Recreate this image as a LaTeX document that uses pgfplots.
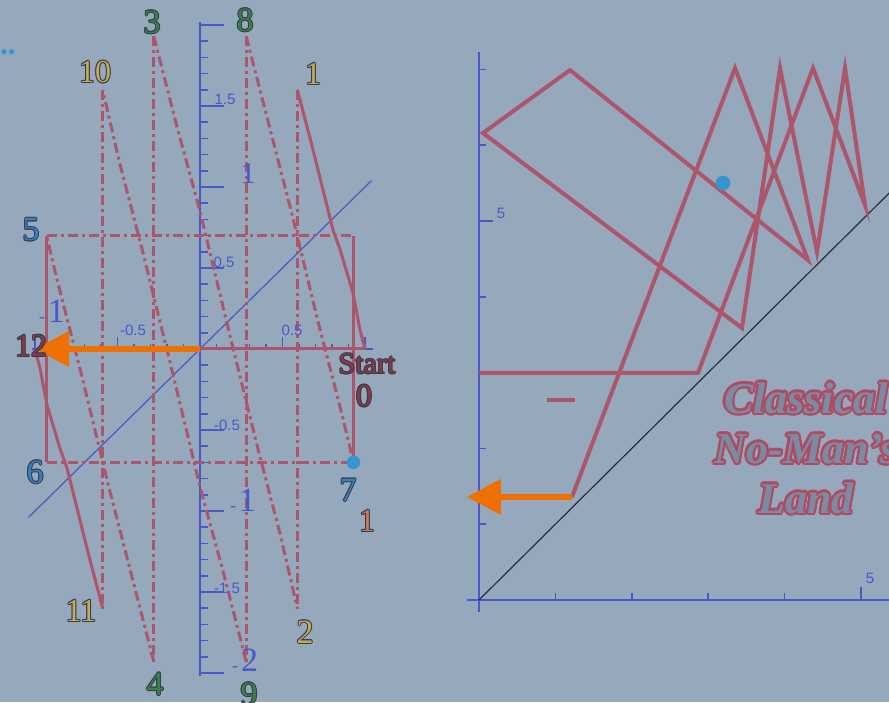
\documentclass[border=0pt]{standalone}
\usepackage{fontspec}
\setmainfont{Liberation Serif}
\newfontfamily\sansf{Liberation Sans}
\usepackage{pgfplots}
\pgfplotsset{compat=1.18}
\usetikzlibrary{arrows.meta}
\definecolor{bg}{RGB}{150,168,188}
\definecolor{redline}{RGB}{172,86,108}
\definecolor{axisblue}{RGB}{72,88,200}
\definecolor{orangeA}{RGB}{238,112,0}
\definecolor{dotblue}{RGB}{55,150,205}
\definecolor{lgreen}{RGB}{55,128,72}
\definecolor{lyellow}{RGB}{198,172,82}
\definecolor{lblue}{RGB}{52,128,192}
\definecolor{ldred}{RGB}{140,55,70}
\definecolor{lorange}{RGB}{205,122,82}
\definecolor{outl}{RGB}{55,60,75}
\definecolor{clfill}{RGB}{122,140,164}
\definecolor{clout}{RGB}{176,74,96}
\definecolor{diagc}{RGB}{40,45,60}

\newcommand{\olab}[5]{%
 \foreach \ang in {0,45,...,315}{\node[inner sep=0pt,text=outl,font=\fontsize{#4}{#4}\selectfont,shift={(\ang:0.5pt)}] at (#1,#2) {#5};}%
 \node[inner sep=0pt,text=#3,font=\fontsize{#4}{#4}\selectfont] at (#1,#2) {#5};}
\newcommand{\slab}[3]{\node[inner sep=0pt,text=axisblue,font=\sansf\fontsize{7.5}{7.5}\selectfont] at (#1,#2) {#3};}
\newcommand{\blab}[3]{\node[inner sep=0pt,text=axisblue] at (#1,#2) {{\fontsize{9}{9}\selectfont -\,}{\fontsize{17}{17}\selectfont #3}};}

\pgfplotsset{
  redl/.style={draw=redline, line width=1.5pt, line join=round},
  dd/.style={dash pattern=on 5pt off 2pt on 1.5pt off 2pt},
  redr/.style={draw=redline, line width=2pt},
}

\begin{document}
\begin{tikzpicture}
\useasboundingbox (0,0) rectangle (444.5pt,351pt);
\clip (0,0) rectangle (444.5pt,351pt);
\fill[bg] (0,0) rectangle (444.5pt,351pt);

% ---------------- left chart: y axis only
\begin{axis}[at={(15.85pt,12.88pt)}, anchor=south west, scale only axis,
  width=170.775pt, height=327.24pt,
  xmin=-1.02, xmax=1.05, ymin=-2.02, ymax=2.02,
  axis lines=middle, axis line style={draw=axisblue, line width=0.8pt, -},
  hide x axis,
  ytick={-2,-1.5,...,2}, minor y tick num=4, yticklabels={},
  tick align=inside, major tick length=12pt, minor tick length=4pt,
  tick style={axisblue, line width=0.8pt}, clip=false]
\addplot[draw=none] coordinates {(0,0)};
\end{axis}

% ---------------- left chart: x axis + data
\begin{axis}[at={(15.85pt,12.88pt)}, anchor=south west, scale only axis,
  width=170.775pt, height=327.24pt,
  xmin=-1.02, xmax=1.05, ymin=-2.02, ymax=2.02,
  axis lines=middle, axis line style={draw=axisblue, line width=0.8pt, -},
  hide y axis,
  xtick={-1,-0.5,0,0.5,1}, minor x tick num=4, xticklabels={},
  tick align=inside, major tick length=6pt, minor tick length=2.5pt,
  tick style={axisblue, line width=0.8pt}, clip=false]
% diagonal
\addplot[draw=axisblue, line width=0.6pt] coordinates {(-1.04,-1.04) (1.04,1.04)};
% rectangle
\addplot[redl] coordinates {(-0.93,0.70) (-0.93,-0.70)};
\addplot[redl] coordinates {(0.93,0.70) (0.93,-0.70)};
\addplot[redl,dd] coordinates {(-0.93,0.70) (0.93,0.70)};
\addplot[redl,dd] coordinates {(-0.93,-0.70) (0.93,-0.70)};
% start line
\addplot[redl] coordinates {(0,0) (1.0,0)};
% verticals
\addplot[redl,dd] coordinates {(0.59,1.6) (0.59,-1.6)};
\addplot[redl,dd] coordinates {(-0.59,1.6) (-0.59,-1.6)};
\addplot[redl,dd] coordinates {(0.28,1.93) (0.28,-1.93)};
\addplot[redl,dd] coordinates {(-0.28,1.93) (-0.28,-1.93)};
% teeth
\addplot[redl] coordinates {(0.59,1.6) (0.68,1.25) (0.806,0.735) (0.85,0.61) (0.927,0.346) (0.97,0.117) (1.0,0)};
\addplot[redl] coordinates {(-0.59,-1.6) (-0.68,-1.25) (-0.806,-0.735) (-0.85,-0.61) (-0.927,-0.346) (-0.97,-0.117) (-1.0,0)};
\addplot[redl,dd] coordinates {(0.28,1.93) (0.424,1.36) (0.558,0.83) (0.715,0.17) (0.867,-0.43) (0.93,-0.70)};
\addplot[redl,dd] coordinates {(-0.28,-1.93) (-0.424,-1.36) (-0.558,-0.83) (-0.715,-0.17) (-0.867,0.43) (-0.93,0.70)};
\addplot[redl,dd] coordinates {(-0.28,1.93) (-0.139,1.37) (0,0.85) (0.182,0.08) (0.352,-0.62) (0.485,-1.14) (0.59,-1.6)};
\addplot[redl,dd] coordinates {(0.28,-1.93) (0.139,-1.37) (0,-0.85) (-0.182,-0.08) (-0.352,0.62) (-0.485,1.14) (-0.59,1.6)};
% arrow
\addplot[draw=orangeA, line width=3.3pt, -{Triangle[length=17pt,width=17pt]}] coordinates {(0,0) (-1.0,0)};
% dot
\addplot[only marks, mark=*, mark size=3.2pt, color=dotblue] coordinates {(0.93,-0.70)};
\end{axis}

% ---------------- right chart
\begin{axis}[at={(233.4pt,44.95pt)}, anchor=south west, scale only axis,
  width=216.2pt, height=280.05pt,
  xmin=-0.16, xmax=5.5, ymin=-0.16, ymax=7.23,
  axis lines=middle, axis line style={draw=axisblue, line width=0.8pt, -},
  xtick={1,...,5}, ytick={1,...,7}, xticklabels={}, yticklabels={},
  tick align=inside, major tick length=3.5pt,
  tick style={axisblue, line width=0.8pt}, clip=false]
\addplot[draw=axisblue, line width=0.8pt] coordinates {(0,5) (0.18,5)};
\addplot[draw=axisblue, line width=0.8pt] coordinates {(5,0) (5,0.17)};
\addplot[draw=diagc, line width=0.6pt] coordinates {(0,0) (5.6,5.6)};
\addplot[redr] coordinates {(0,2.995) (2.866,2.995) (4.372,7.018) (5.052,5.211) (4.791,7.018) (4.424,4.591) (3.940,7.018) (3.442,3.588) (0.052,6.161) (1.191,6.992) (4.306,4.485) (3.351,7.018) (1.217,1.359)};
\addplot[redr] coordinates {(0.89,2.64) (1.26,2.64)};
\addplot[only marks, mark=*, mark size=3.5pt, color=dotblue] coordinates {(3.194,5.501)};
\addplot[draw=orangeA, line width=3.3pt, -{Triangle[length=17pt,width=17pt]}] coordinates {(1.217,1.359) (-0.16,1.359)};
\end{axis}

% ---------------- labels (pixel coordinates)
\begin{scope}[x=0.5pt, y=-0.5pt, yshift=351pt]
\node[inner sep=0pt,text=dotblue,font=\fontsize{11}{11}\selectfont] at (8,55) {••};
\slab{225}{99}{1.5}
\slab{224}{262}{0.5}
\slab{227}{425}{-0.5}
\slab{227}{588}{-1.5}
\slab{133}{330}{-0.5}
\slab{292}{330}{0.5}
\slab{501}{213}{5}
\slab{870}{578}{5}
\blab{52}{311}{1}
\blab{243}{500}{1}
\blab{245}{660}{2}
\node[inner sep=0pt,text=axisblue,font=\fontsize{15}{15}\selectfont] at (248,174) {1};
\olab{152}{22}{lgreen}{17}{3}
\olab{245}{20}{lgreen}{17}{8}
\olab{95}{72}{lyellow}{16}{10}
\olab{313}{74}{lyellow}{16}{1}
\olab{31}{230}{lblue}{17}{5}
\olab{35}{472}{lblue}{17}{6}
\olab{31}{346}{ldred}{16}{12}
\olab{367}{364}{ldred}{15}{Start}
\olab{364}{396}{ldred}{16}{0}
\olab{348}{490}{lblue}{17}{7}
\olab{367}{521}{lorange}{16}{1}
\olab{81}{611}{lyellow}{16}{11}
\olab{155}{684}{lgreen}{17}{4}
\olab{305}{632}{lyellow}{17}{2}
\olab{249}{694}{lgreen}{17}{9}
% Classical No-Man's Land
\foreach \ang in {0,22.5,...,337.5}{\node[inner sep=0pt,align=center,text=clout,font=\bfseries\itshape\fontsize{22}{25}\selectfont,shift={(\ang:1.1pt)}] at (806,448) {Classical\\No-Man’s\\Land};}
\node[inner sep=0pt,align=center,text=clfill,font=\bfseries\itshape\fontsize{22}{25}\selectfont] at (806,448) {Classical\\No-Man’s\\Land};
\end{scope}
\end{tikzpicture}
\end{document}
